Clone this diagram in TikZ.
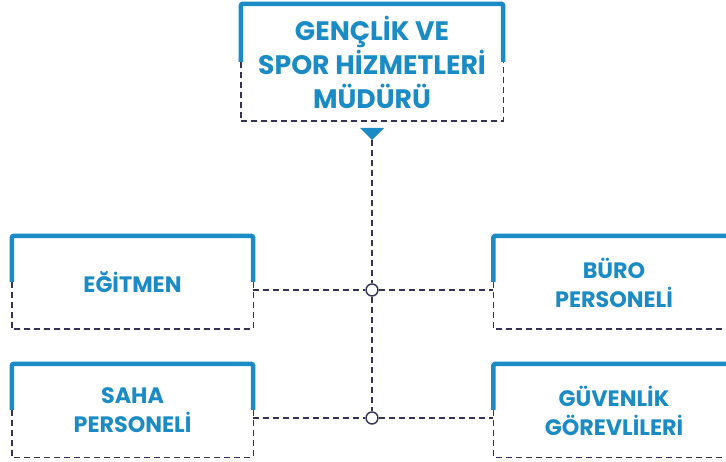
\documentclass[tikz,border=0pt]{standalone}
\usepackage{fontspec}
\setmainfont{Poppins}[BoldFont={Poppins Bold}]
\usepackage{tikz}
\usetikzlibrary{calc}
\usetikzlibrary{positioning}

\definecolor{orgblue}{HTML}{1A8BC4}
\definecolor{orgdash}{HTML}{35325A}

\tikzset{
  unitbox/.style={inner sep=0pt,align=center,text=orgblue,font=\bfseries\fontsize{22.3}{29}\selectfont,
                  minimum width=241,minimum height=93},
  headbox/.style={unitbox,font=\bfseries\fontsize{26.7}{34}\selectfont,minimum width=262,minimum height=117},
  blueedge/.style={draw=orgblue,line width=4.5pt,line join=round,line cap=butt,rounded corners=1.5pt},
  dashedge/.style={draw=orgdash,line width=1.4pt,dash pattern=on 6pt off 4pt},
  joint/.style={circle,draw=orgdash,line width=1.4pt,fill=white,minimum size=12pt,inner sep=0pt},
}

\begin{document}
\begin{tikzpicture}[x=1pt,y=-1pt]
        \useasboundingbox (0,0) rectangle (726,462);
        \clip (0,0) rectangle (726,462);

        % boxes
        \node[headbox] (mudur) at (372,62.5) {GENÇLİK VE\\SPOR HİZMETLERİ\\MÜDÜRÜ};
        \node[unitbox] (egitmen) at (132.5,282.5) {EĞİTMEN};
        \node[unitbox] (saha) at (132.5,410.5) {SAHA\\PERSONELİ};
        \node[unitbox] (buro) at (614,282.5) {BÜRO\\PERSONELİ};
        \node[unitbox] (guvenlik) at (614,410.5) {GÜVENLİK\\GÖREVLİLERİ};

        % frames of the head box
        \draw[blueedge] ($(mudur.north west)+(0,58)$) -- (mudur.north west) -- (mudur.north east) -- ($(mudur.north east)+(0,58)$);
        \draw[dashedge] ($(mudur.north west)+(0,58)$) -- (mudur.south west) -- (mudur.south east) -- ($(mudur.north east)+(0,58)$);

        % frames of the unit boxes
        \foreach \b in {egitmen,saha,buro,guvenlik}{
          \draw[blueedge] ($(\b.north west)+(0,46)$) -- (\b.north west) -- (\b.north east) -- ($(\b.north east)+(0,46)$);
          \draw[dashedge] ($(\b.north west)+(0,46)$) -- (\b.south west) -- (\b.south east) -- ($(\b.north east)+(0,46)$);
        }

        % triangle under the head box
        \fill[orgblue] (360,128) -- (384,128) -- (372,140) -- cycle;
        \coordinate (tip) at (372,140);

        % joints
        \node[joint] (j1) at (372,290) {};
        \node[joint] (j2) at (372,418) {};

        % connectors
        \draw[dashedge] (tip) -- (j1);
        \draw[dashedge] (j1) -- (j2);
        \draw[dashedge] (egitmen.east |- j1) -- (j1);
        \draw[dashedge] (j1) -- (buro.west |- j1);
        \draw[dashedge] (saha.east |- j2) -- (j2);
        \draw[dashedge] (j2) -- (guvenlik.west |- j2);
\end{tikzpicture}
\end{document}
